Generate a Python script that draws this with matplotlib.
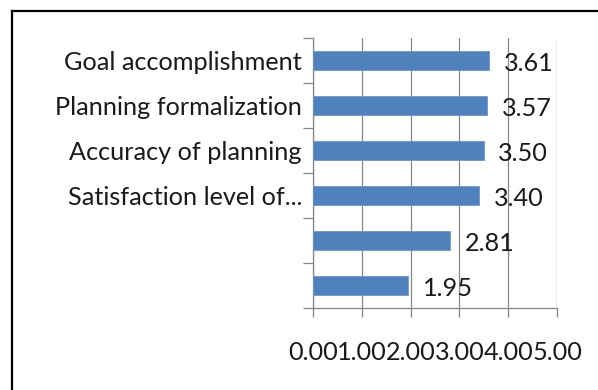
import matplotlib
matplotlib.use("Agg")
import matplotlib.pyplot as plt
from matplotlib.lines import Line2D
import numpy as np

categories = ["Goal accomplishment", "Planning formalization", "Accuracy of planning",
              "Satisfaction level of...", "", ""]
values = [3.61, 3.57, 3.50, 3.40, 2.81, 1.95]
x_ticks = [0, 1, 2, 3, 4, 5]
x_tick_labels = ["0.00", "1.00", "2.00", "3.00", "4.00", "5.00"]

FONT = "Lato"
FS = 18.2
BAR = "#4F81BD"
GRID = "#868686"

fig = plt.figure(figsize=(5.98, 3.90), dpi=100)
ax = fig.add_axes([313 / 598, 1 - 308 / 390, (557 - 313) / 598, (308 - 38) / 390])

n = len(categories)
ypos = np.arange(n)[::-1]  # first category at the top
ax.barh(ypos, values, height=0.42, color=BAR, edgecolor="#6E97CB", linewidth=0.6, zorder=3)

for y, v in zip(ypos, values):
    ax.annotate(f"{v:.2f}", xy=(v, y), xytext=(10.5, -2), textcoords="offset points",
                ha="left", va="center", fontsize=FS, family=FONT, color="#1a1a1a", zorder=4)

ax.set_xlim(0, 5)
ax.set_ylim(-0.5, n - 0.5)
ax.set_xticks(x_ticks)
ax.set_xticklabels(x_tick_labels, family=FONT, fontsize=FS, color="#1a1a1a")
ax.tick_params(axis="x", direction="out", length=6.5, width=0.9, color=GRID, pad=17)

ax.set_yticks(ypos)
ax.set_yticklabels(categories, family=FONT, fontsize=FS, color="#1a1a1a")
ax.tick_params(axis="y", which="major", length=0, pad=8)
ax.set_yticks(np.arange(n + 1) - 0.5, minor=True)
ax.tick_params(axis="y", which="minor", direction="out", length=7, width=0.9, color=GRID)

ax.grid(axis="x", color=GRID, linewidth=0.9, zorder=0)
for side in ("top", "right"):
    ax.spines[side].set_visible(False)
for side in ("left", "bottom"):
    ax.spines[side].set_color(GRID)
    ax.spines[side].set_linewidth(0.9)

# outer frame (top and left edges)
fig.add_artist(Line2D([11.5 / 598, 1.0], [1 - 10.5 / 390] * 2, transform=fig.transFigure,
                      color="black", linewidth=1.6))
fig.add_artist(Line2D([11.5 / 598] * 2, [0.0, 1 - 10.5 / 390], transform=fig.transFigure,
                      color="black", linewidth=1.6))

fig.savefig("out.png", dpi=100, facecolor="white")
